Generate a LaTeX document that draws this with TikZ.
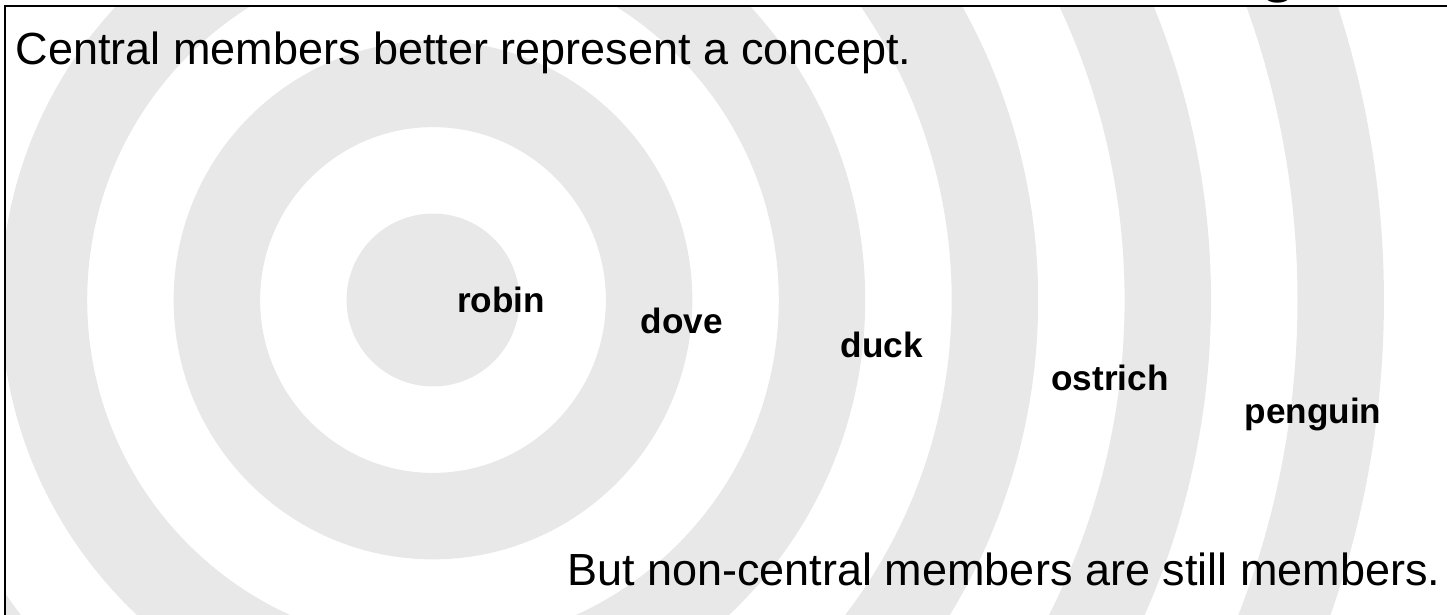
\documentclass[tikz,border=0pt]{standalone}
\usepackage{fontspec}
\setmainfont{Liberation Sans}
\definecolor{ringgray}{HTML}{E8E8E8}

\begin{document}
\begin{tikzpicture}[x=0.01cm,y=-0.01cm,
  member/.style={font=\fontsize{10}{12}\selectfont\bfseries,inner sep=0pt,anchor=base},
  caption/.style={font=\fontsize{12.8}{15}\selectfont,inner sep=0pt}]
\useasboundingbox (0,0) rectangle (1447,614);

%Titel (nur Unterlaenge sichtbar)
\node[font=\fontsize{17}{20}\selectfont\bfseries,anchor=base,inner sep=0pt] (title) at (1279,-10) {g};

%Ringe
\begin{scope}
\clip (5,6) rectangle (1447,614);
\fill[ringgray,even odd rule] \foreach \k in {1,...,11} {(433,300) circle[radius=\k*0.864cm]};
\end{scope}

%Rahmen
\draw[line width=0.6pt] (5,620) -- (5,6) -- (1450,6);

%Texte
\node[caption,anchor=base west] (central) at (15,64) {Central members better represent a concept.};
\node[caption,anchor=base east] (still) at (1441,585) {But non-central members are still members.};

%Mitglieder
\node[member] (robin) at (501,312) {robin};
\node[member] (dove) at (682,333) {dove};
\node[member] (duck) at (882,357) {duck};
\node[member] (ostrich) at (1110,390) {ostrich};
\node[member] (penguin) at (1313,423) {penguin};
\end{tikzpicture}
\end{document}
